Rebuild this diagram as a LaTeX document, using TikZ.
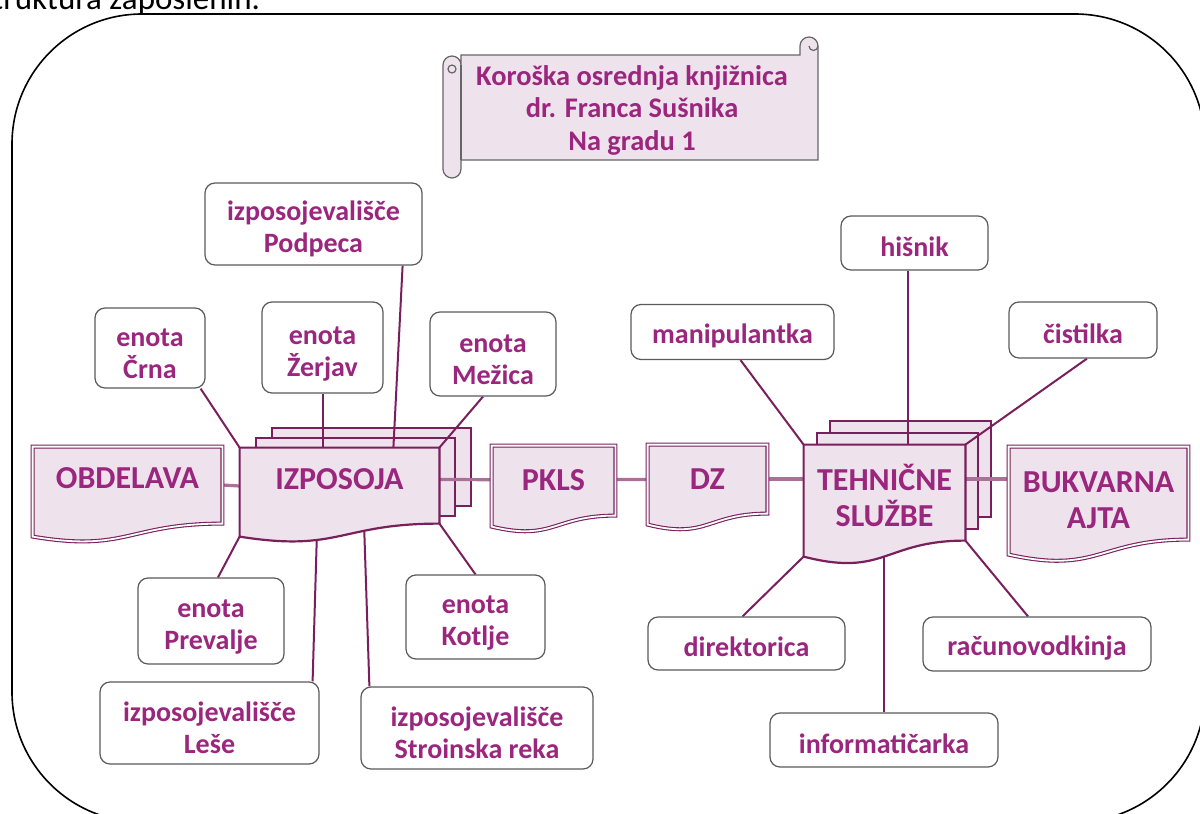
\documentclass[tikz,border=0pt]{standalone}
\usepackage{fontspec}
\setmainfont{Carlito}
\usetikzlibrary{calc}

\definecolor{txtpurple}{RGB}{155,38,125}
\definecolor{linepurple}{RGB}{122,30,92}
\definecolor{flowpurple}{RGB}{170,112,152}
\definecolor{docfill}{RGB}{238,227,236}
\definecolor{boxgray}{RGB}{90,90,90}

\pgfdeclarelayer{sheets}
\pgfdeclarelayer{lines}
\pgfdeclarelayer{docs}
\pgfsetlayers{sheets,lines,docs,main}

% documento con borde ondulado: estilo, nodo, caida izq., caida der., control
\newcommand{\drawdoc}[5]{%
  \path[#1] (#2.north west) -- (#2.north east) -- ($(#2.north east)+(0,#4)$) coordinate (#2-br)
    .. controls ($(#2.north)+(0,#4)$) and ($(#2.north)+(0,#5)$) .. ($(#2.north west)+(0,#3)$) coordinate (#2-bl) -- cycle;}

\begin{document}
\begin{tikzpicture}[x=0.5pt, y=-0.5pt,
    unit/.style={draw=boxgray, fill=white, line width=0.6pt, rounded corners=5pt, inner sep=0pt,
      text=txtpurple, align=center, font=\fontsize{14}{16}\selectfont\bfseries,
      execute at begin node={\rule{0pt}{13.5pt}}},
    two/.style={execute at begin node={\rule{0pt}{31pt}}},
    doc/.style={inner sep=0pt, text=txtpurple, align=center, font=\fontsize{16}{18}\selectfont\bfseries},
    ddoc/.style={draw=linepurple, fill=docfill, line width=0.55pt, double=white, double distance=0.9pt},
    sheet/.style={draw=linepurple, fill=docfill, line width=1.1pt},
    scroll/.style={draw=black!60, fill=docfill, line width=0.6pt},
    link/.style={draw=linepurple, line width=1pt},
    flow/.style={draw=flowpurple, line width=1.6pt}]
  \useasboundingbox (0,0) rectangle (1200,814);

  % Marco
  \draw[line width=0.8pt, rounded corners=65pt] (12,14) rectangle (1205,822);
  \node[anchor=base west, font=\fontsize{16.5}{18}\selectfont] (naslov) at (-30,9) {Struktura zaposlenih.};

  % Pergamino
  \filldraw[scroll] (461,55) -- (800,55) -- (800,46) arc[start angle=180, end angle=360, radius=9]
    -- (818,160) -- (461,160) -- (461,169) arc[start angle=0, end angle=180, radius=9]
    -- (443,65) arc[start angle=180, end angle=360, radius=9] -- cycle;
  \draw[scroll] (809,46) arc[start angle=180, end angle=0, radius=4.5];
  \draw[scroll] (461,65) -- (461,160);
  \draw[scroll] (452,69) circle[radius=4];
  \node[inner sep=0pt, text=txtpurple, align=center, font=\fontsize{14.2}{16.25}\selectfont\bfseries]
    (knjiznica) at (632,110) {Koroška osrednja knjižnica\\dr. Franca Sušnika\\Na gradu 1};

  % Documentos
  \node[doc, minimum width=94.5pt, minimum height=31pt] (obdelava) at (127.5,478) {OBDELAVA};
  \node[doc, minimum width=99.5pt, minimum height=31pt] (izposoja) at (339.5,479) {IZPOSOJA};
  \node[doc, minimum width=61.5pt, minimum height=34pt] (pkls) at (553.5,480) {PKLS};
  \node[doc, minimum width=59.5pt, minimum height=34pt] (dz) at (707.5,479) {DZ};
  \node[doc, minimum width=80.5pt, minimum height=50pt] (tehnicne) at (884.5,495) {TEHNIČNE\\SLUŽBE};
  \node[doc, minimum width=89.5pt, minimum height=53pt] (bukvarna) at (1098.5,500) {BUKVARNA\\AJTA};

  \begin{pgfonlayer}{docs}
    \drawdoc{ddoc}{obdelava}{90}{77}{106}
    \drawdoc{sheet}{izposoja}{89}{76}{105}
    \drawdoc{ddoc}{pkls}{81}{70}{96}
    \drawdoc{ddoc}{dz}{80}{69}{95}
    \drawdoc{sheet}{tehnicne}{112}{96}{133}
    \drawdoc{ddoc}{bukvarna}{108}{93}{128}
  \end{pgfonlayer}

  \begin{pgfonlayer}{sheets}
    \foreach \i in {2,1} {
      \draw[sheet] ($(izposoja.north west)+(16*\i,-10*\i)$) rectangle ++(199,78);
      \draw[sheet] ($(tehnicne.north west)+(13*\i,-12*\i)$) rectangle ++(161,96);
    }
  \end{pgfonlayer}

  % Cajas
  \node[unit, two, minimum width=108.5pt, minimum height=41pt] (podpeca) at (313.5,224) {izposojevališče\\Podpeca};
  \node[unit, two, minimum width=55pt, minimum height=40pt] (crna) at (150,348) {enota\\Črna};
  \node[unit, two, minimum width=60.5pt, minimum height=45.5pt] (zerjav) at (322.5,347.5) {enota\\Žerjav};
  \node[unit, two, minimum width=63pt, minimum height=42pt] (mezica) at (493,354) {enota\\Mežica};
  \node[unit, two, minimum width=73pt, minimum height=43pt] (prevalje) at (211,621) {enota\\Prevalje};
  \node[unit, two, minimum width=69.5pt, minimum height=42pt] (kotlje) at (475.5,617) {enota\\Kotlje};
  \node[unit, two, minimum width=109.5pt, minimum height=41pt] (lese) at (209.5,723) {izposojevališče\\Leše};
  \node[unit, two, minimum width=116pt, minimum height=41pt] (stroinska) at (477,728) {izposojevališče\\Stroinska reka};
  \node[unit, minimum width=73.5pt, minimum height=27pt] (hisnik) at (914.5,243) {hišnik};
  \node[unit, minimum width=101.5pt, minimum height=27.5pt] (manipulantka) at (732.5,332) {manipulantka};
  \node[unit, minimum width=74pt, minimum height=28pt] (cistilka) at (1083,330) {čistilka};
  \node[unit, minimum width=98.5pt, minimum height=26.5pt] (direktorica) at (746.5,643.5) {direktorica};
  \node[unit, minimum width=114pt, minimum height=27pt] (racunovodkinja) at (1037,644) {računovodkinja};
  \node[unit, minimum width=114pt, minimum height=27pt] (informaticarka) at (884,740) {informatičarka};

  % Conexiones
  \begin{pgfonlayer}{lines}
    \draw[link] ([xshift=-2.5pt]crna.south east) -- (izposoja.north west);
    \draw[link] (zerjav.south) -- (zerjav.south |- izposoja.north);
    \draw[link] ([xshift=-10pt]podpeca.south east) -- ([xshift=-23pt]izposoja.north east);
    \draw[link] ([xshift=-5pt]mezica.south) -- (izposoja.north east);
    \draw[link] ([xshift=3.5pt]prevalje.north) -- (izposoja-bl);
    \draw[link] ([xshift=-3.5pt]lese.north east) -- ([xshift=39pt]izposoja.south west);
    \draw[link] ([xshift=4.5pt]stroinska.north west) -- ([xshift=62pt]izposoja.south west);
    \draw[link] (kotlje.north) -- (izposoja-br);

    \draw[link] ([xshift=4pt]manipulantka.south) -- (tehnicne.north west);
    \draw[link] ([xshift=-3.5pt]hisnik.south) coordinate (h) -- (h |- tehnicne.north);
    \draw[link] ([xshift=2pt]cistilka.south) -- (tehnicne.north east);
    \draw[link] ([xshift=-2pt]direktorica.north) -- (tehnicne-bl);
    \draw[link] (informaticarka.north) -- (informaticarka.north |- tehnicne.south);
    \draw[link] ([xshift=-4.5pt]racunovodkinja.north) -- (tehnicne-br);

    \draw[flow] ([yshift=-3.5pt]obdelava.east) -- ([yshift=-3.5pt]izposoja.west);
    \draw[flow] (izposoja) -- (pkls);
    \draw[flow] (pkls) -- (dz);
    \draw[flow] (dz.east) -- (dz.east -| tehnicne.west);
    \draw[flow] (tehnicne.east |- dz.east) -- (bukvarna.west |- dz.east);
  \end{pgfonlayer}
\end{tikzpicture}
\end{document}
